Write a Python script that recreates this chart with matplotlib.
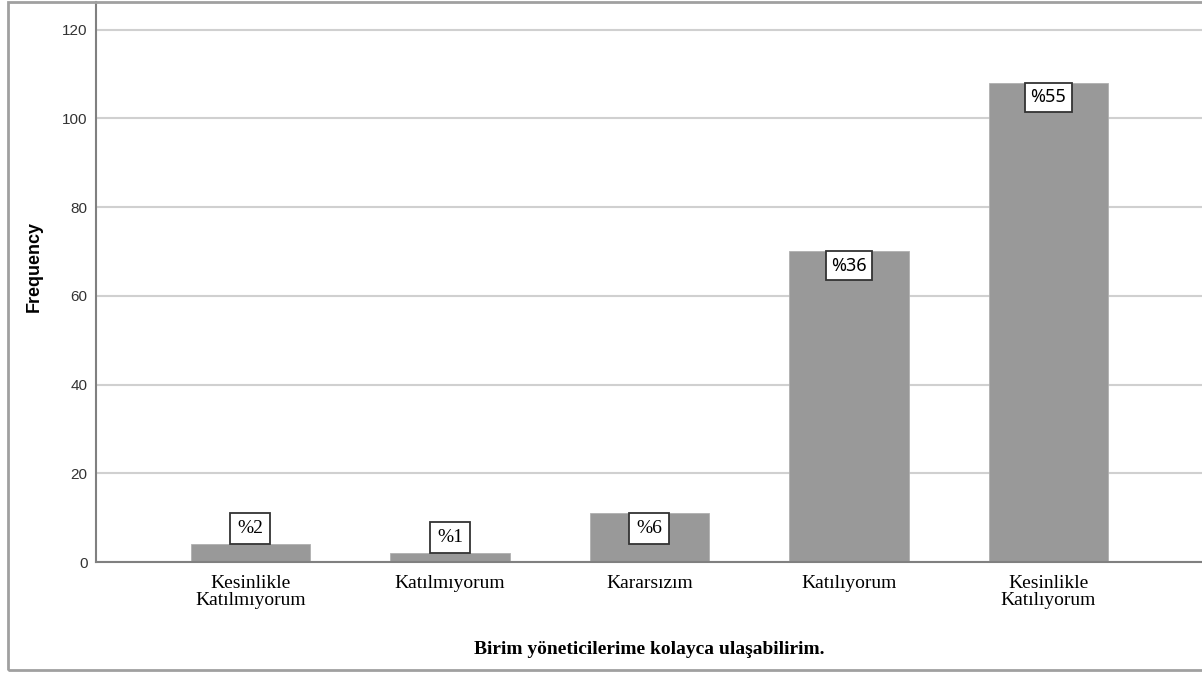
import matplotlib.pyplot as plt
from matplotlib.patches import Rectangle

# data
categories = ['Kesinlikle\nKatılmıyorum', 'Katılmıyorum', 'Kararsızım',
              'Katılıyorum', 'Kesinlikle\nKatılıyorum']
frequency = [4, 2, 11, 70, 108]
percent_labels = ['%2', '%1', '%6', '%36', '%55']
yticks = [0, 20, 40, 60, 80, 100, 120]

fig = plt.figure(figsize=(12.02, 6.73), dpi=100)
ax = fig.add_axes([96 / 1202, 111 / 673, 1106 / 1202, 560 / 673])

# outer grey frame like the SPSS output
fig.patches.append(Rectangle((8 / 1202, 3 / 673), 1.2, 668 / 673,
                             transform=fig.transFigure, fill=False,
                             edgecolor='#a0a0a0', linewidth=2, clip_on=False))

x = range(len(categories))
ax.bar(x, frequency, width=0.6, color='#999999', edgecolor='#b0b0b0',
       linewidth=0.6, zorder=2)

ax.set_xlim(-0.774, 4.77)
ax.set_ylim(0, 126.2)
ax.set_yticks(yticks)
ax.yaxis.grid(True, color='#d0d0d0', linewidth=1.5, zorder=0)
ax.set_axisbelow(True)

for s in ['top', 'right']:
    ax.spines[s].set_visible(False)
for s in ['left', 'bottom']:
    ax.spines[s].set_color('#808080')
    ax.spines[s].set_linewidth(1.5)

ax.tick_params(axis='both', length=0)
ax.tick_params(axis='y', pad=6, labelsize=11, labelcolor='#333333')
ax.tick_params(axis='x', pad=9)
for lab in ax.get_yticklabels():
    lab.set_family('Liberation Sans')

ax.set_xticks(list(x))
ax.set_xticklabels(categories, family='Liberation Serif', fontsize=14,
                   linespacing=1.05)

fig.text(34 / 1202, 1 - 267 / 673, 'Frequency', rotation=90,
         ha='center', va='center', family='Liberation Sans', fontsize=13,
         fontweight='bold')
fig.text(649 / 1202, 24 / 673, 'Birim yöneticilerime kolayca ulaşabilirim.',
         ha='center', va='center', family='Liberation Serif', fontsize=14,
         fontweight='bold')

# percentage boxes
for i, (v, p) in enumerate(zip(frequency, percent_labels)):
    fam = 'Liberation Serif' if i < 3 else 'Noto Sans'
    fs = 14 if i < 3 else 13
    pad = 0.36 if i < 3 else 0.3
    off = pad * fs
    if v < 8:
        va, dy = 'bottom', off
    else:
        va, dy = 'top', -off
    ax.annotate(p, (i, v), xytext=(0, dy), textcoords='offset points',
                ha='center', va=va, family=fam, fontsize=fs, zorder=4,
                bbox=dict(boxstyle='square,pad=%.2f' % pad, facecolor='white',
                          edgecolor='#333333', linewidth=1.3))

fig.savefig('out.png', dpi=100)
